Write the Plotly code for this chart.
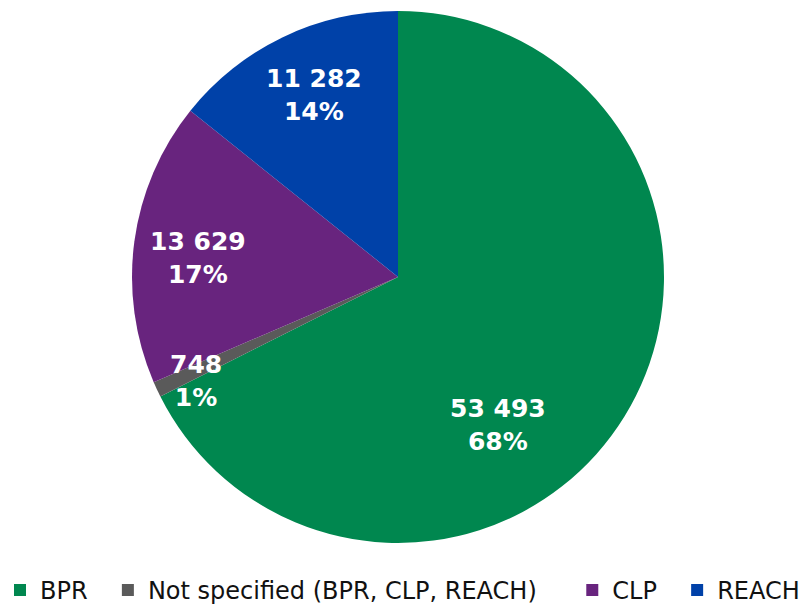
import plotly.graph_objects as go

# Notifications by regulatory framework
categories = ["BPR", "Not specified (BPR, CLP, REACH)", "CLP", "REACH"]
counts = [53493, 748, 13629, 11282]
colors = ["#00874F", "#5A5A5A", "#68247E", "#0041A8"]

# Label anchor points (paper coordinates) for each slice's data label
label_x = [0.6225, 0.245, 0.2475, 0.3925]
label_y = [0.2975, 0.370, 0.5735, 0.843]

total = sum(counts)


def fmt_count(v):
    return f"{v:,}".replace(",", " ")


# trailing non-breaking spaces widen the gaps between legend entries
legend_pad = [2, 4, 2, 0]
legend_names = [c + "\u00a0" * n for c, n in zip(categories, legend_pad)]

fig = go.Figure(
    go.Pie(
        labels=legend_names,
        values=counts,
        customdata=categories,
        marker=dict(colors=colors, line=dict(width=0)),
        sort=False,
        direction="clockwise",
        rotation=0,
        textinfo="none",
        hovertemplate="%{customdata}<br>%{value}<br>%{percent}<extra></extra>",
        domain=dict(x=[0.165, 0.83], y=[0.1025, 0.982]),
    )
)

for v, x, y in zip(counts, label_x, label_y):
    pct = round(100 * v / total)
    fig.add_annotation(
        x=x, y=y, xref="paper", yref="paper",
        text=f"<b>{fmt_count(v)}<br>{pct}%</b>",
        showarrow=False,
        font=dict(family="DejaVu Sans", size=25, color="white"),
        xanchor="center", yanchor="middle",
    )

fig.update_layout(
    width=800, height=605,
    margin=dict(l=0, r=0, t=0, b=0, autoexpand=False),
    paper_bgcolor="white",
    plot_bgcolor="white",
    showlegend=True,
    legend=dict(
        orientation="h",
        x=0.0, xanchor="left",
        y=-0.013, yanchor="bottom",
        font=dict(family="DejaVu Sans", size=24, color="#111111"),
        itemwidth=30,
        traceorder="normal",
    ),
)

fig.write_html("out.html")
